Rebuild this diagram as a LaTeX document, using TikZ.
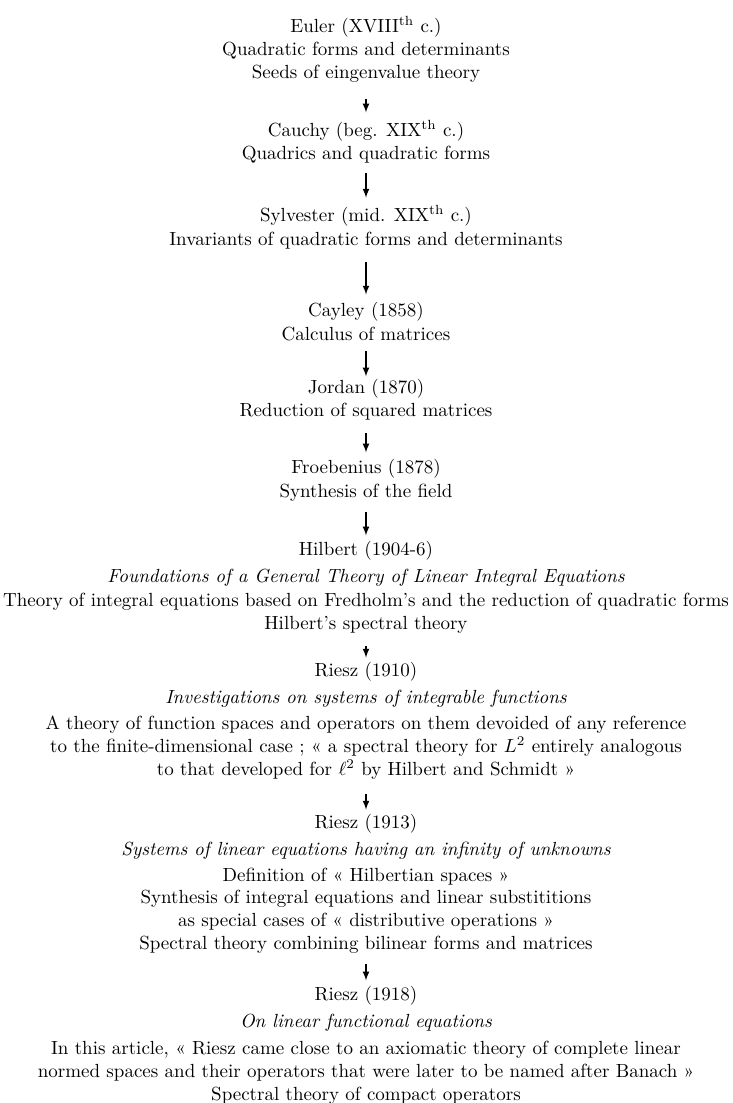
\documentclass[tikz,border=0pt]{standalone}
\usepackage{amsmath, amssymb}
\usepackage{tikz}
\usetikzlibrary{arrows}
\usetikzlibrary{positioning}

\begin{document}
\begin{tikzpicture}
	[x=0.5263pt, y=-0.5263pt,
	 every node/.style={inner sep=0pt, anchor=base},
	 who/.style={},
	 work/.style={font=\itshape},
	 what/.style={align=center},
	 lead/.style={-latex, semithick}]
	\useasboundingbox (0,0) rectangle (732,1103);
	\node[who] (euler) at (366,32) {Euler (XVIII\textsuperscript{th} c.)};
	\node[what] (eulerd) at (366,78.5) {Quadratic forms and determinants\\ Seeds of eingenvalue theory};
	\node[who] (cauchy) at (366,136) {Cauchy (beg. XIX\textsuperscript{th} c.)};
	\node[what] (cauchyd) at (366,159) {Quadrics and quadratic forms};
	\node[who] (sylvester) at (366,221) {Sylvester (mid. XIX\textsuperscript{th} c.)};
	\node[what] (sylvesterd) at (366,245) {Invariants of quadratic forms and determinants};
	\node[who] (cayley) at (366,316) {Cayley (1858)};
	\node[what] (cayleyd) at (366,340) {Calculus of matrices};
	\node[who] (jordan) at (366,393) {Jordan (1870)};
	\node[what] (jordand) at (366,416) {Reduction of squared matrices};
	\node[who] (froeb) at (366,473) {Froebenius (1878)};
	\node[what] (froebd) at (366,497) {Synthesis of the field};
	\node[who] (hilbert) at (366,555) {Hilbert (1904-6)};
	\node[work] (hilbertw) at (366,582) {Foundations of a General Theory of Linear Integral Equations};
	\node[what] (hilbertd) at (366,629.5) {Theory of integral equations based on Fredholm's and the reduction of quadratic forms\\ Hilbert's spectral theory};
	\node[who] (rieszA) at (366,676) {Riesz (1910)};
	\node[work] (rieszAw) at (366,703) {Investigations on systems of integrable functions};
	\node[what] (rieszAd) at (366,775) {A theory of function spaces and operators on them devoided of any reference\\ to the finite-dimensional case ; « a spectral theory for $L^2$ entirely analogous\\ to that developed for $\ell^2$ by Hilbert and Schmidt »};
	\node[who] (rieszB) at (366,828) {Riesz (1913)};
	\node[work] (rieszBw) at (366,855) {Systems of linear equations having an infinity of unknowns};
	\node[what] (rieszBd) at (366,949.5) {Definition of « Hilbertian spaces »\\ Synthesis of integral equations and linear substititions\\ as special cases of « distributive operations »\\ Spectral theory combining bilinear forms and matrices};
	\node[who] (rieszC) at (366,1000) {Riesz (1918)};
	\node[work] (rieszCw) at (366,1027) {On linear functional equations};
	\node[what] (rieszCd) at (366,1100) {In this article, « Riesz came close to an axiomatic theory of complete linear\\ normed spaces and their operators that were later to be named after Banach »\\ Spectral theory of compact operators};
	\draw[lead, shorten <=8.3pt, shorten >=3.7pt] (eulerd) -- (cauchy);
	\draw[lead, shorten <=5.4pt, shorten >=3.6pt] (cauchyd) -- (sylvester);
	\draw[lead, shorten <=7pt, shorten >=3.6pt] (sylvesterd) -- (cayley);
	\draw[lead, shorten <=5.3pt, shorten >=1pt] (cayleyd) -- (jordan);
	\draw[lead, shorten <=7pt, shorten >=3.1pt] (jordand) -- (froeb);
	\draw[lead, shorten <=5.9pt, shorten >=2.6pt] (froebd) -- (hilbert);
	\draw[lead, shorten <=6.2pt, shorten >=2pt] (hilbertd) -- (rieszA);
	\draw[lead, shorten <=8pt, shorten >=2pt] (rieszAd) -- (rieszB);
	\draw[lead, shorten <=5.2pt, shorten >=2.6pt] (rieszBd) -- (rieszC);
\end{tikzpicture}
\end{document}
